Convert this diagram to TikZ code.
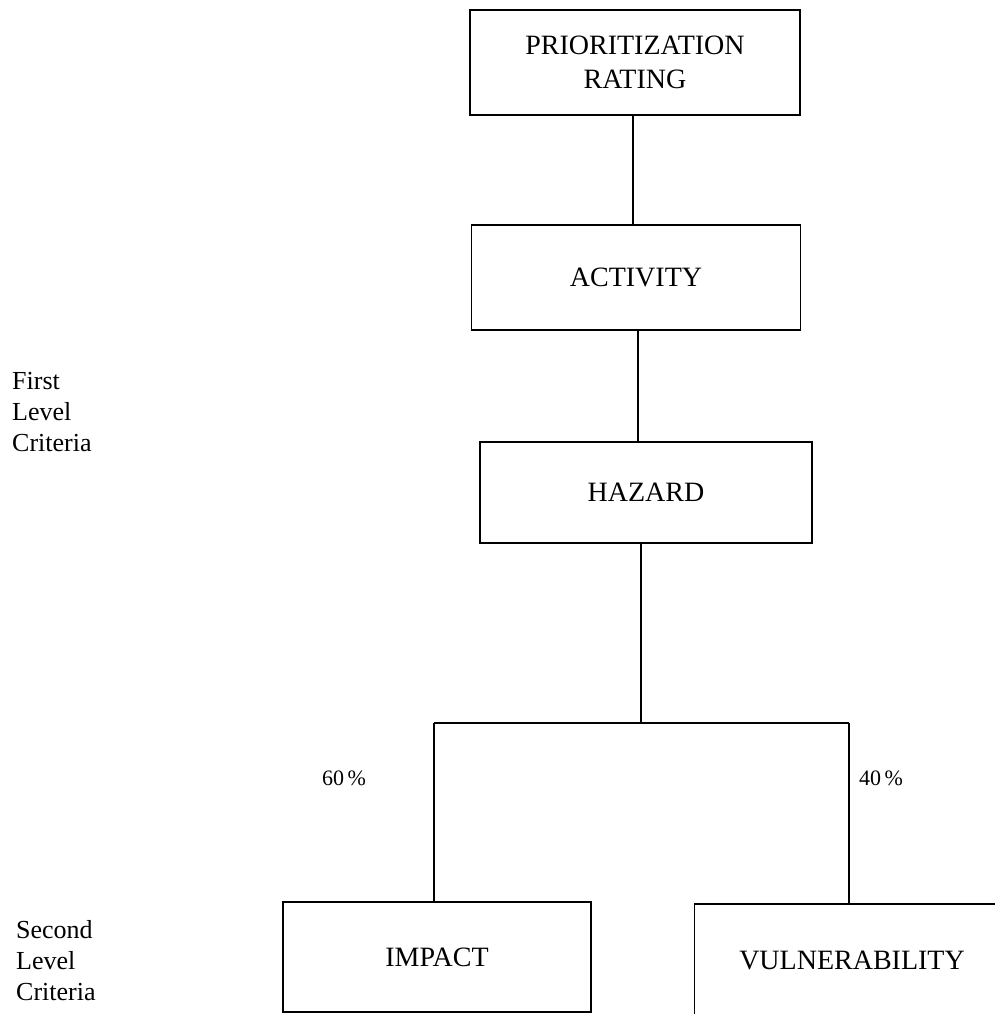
\documentclass[tikz,border=0pt]{standalone}
\usepackage{fontspec}
\setmainfont{Liberation Serif}
\begin{document}
\begin{tikzpicture}[x=1pt,y=-1pt,
  box/.style={draw=black, line width=1.6pt, inner sep=0pt, align=center,
    font=\fontsize{28}{34}\selectfont},
  conn/.style={draw=black, line width=1.2pt},
  sidelabel/.style={anchor=north west, inner sep=0pt, align=left,
    font=\fontsize{26}{31}\selectfont},
  pct/.style={inner sep=0pt, font=\fontsize{22}{26}\selectfont}]
\useasboundingbox (0,0) rectangle (995,1014);
\clip (0,0) rectangle (995,1014);
\node[box, minimum width=330pt, minimum height=105pt] (prio) at (635,62.5) {PRIORITIZATION\\RATING};
\node[box, minimum width=329pt, minimum height=105pt] (act) at (636,277.5) {ACTIVITY};
\node[box, minimum width=332pt, minimum height=101pt] (haz) at (646,492.5) {HAZARD};
\node[box, minimum width=308pt, minimum height=110pt] (imp) at (437,957) {IMPACT};
\node[box, minimum width=315pt, minimum height=112pt] (vul) at (852,960) {VULNERABILITY};
\coordinate (j) at (641,723);
\coordinate (jl) at (434,723);
\coordinate (jr) at (849,723);
\draw[conn] (prio.south -| 633,0) -- (act.north -| 633,0);
\draw[conn] (act.south -| 638,0) -- (haz.north -| 638,0);
\draw[conn] (haz.south -| j) -- (j);
\draw[conn] (jl) -- (jr);
\draw[conn] (jl) -- (imp.north -| jl);
\draw[conn] (jr) -- (vul.north -| jr);
\node[pct] (p60) at (344,778) {60\,\%};
\node[pct] (p40) at (881,778) {40\,\%};
\node[sidelabel] (first) at (12,372) {First\\Level\\Criteria};
\node[sidelabel] (second) at (16,920) {Second\\Level\\Criteria};
\end{tikzpicture}
\end{document}
